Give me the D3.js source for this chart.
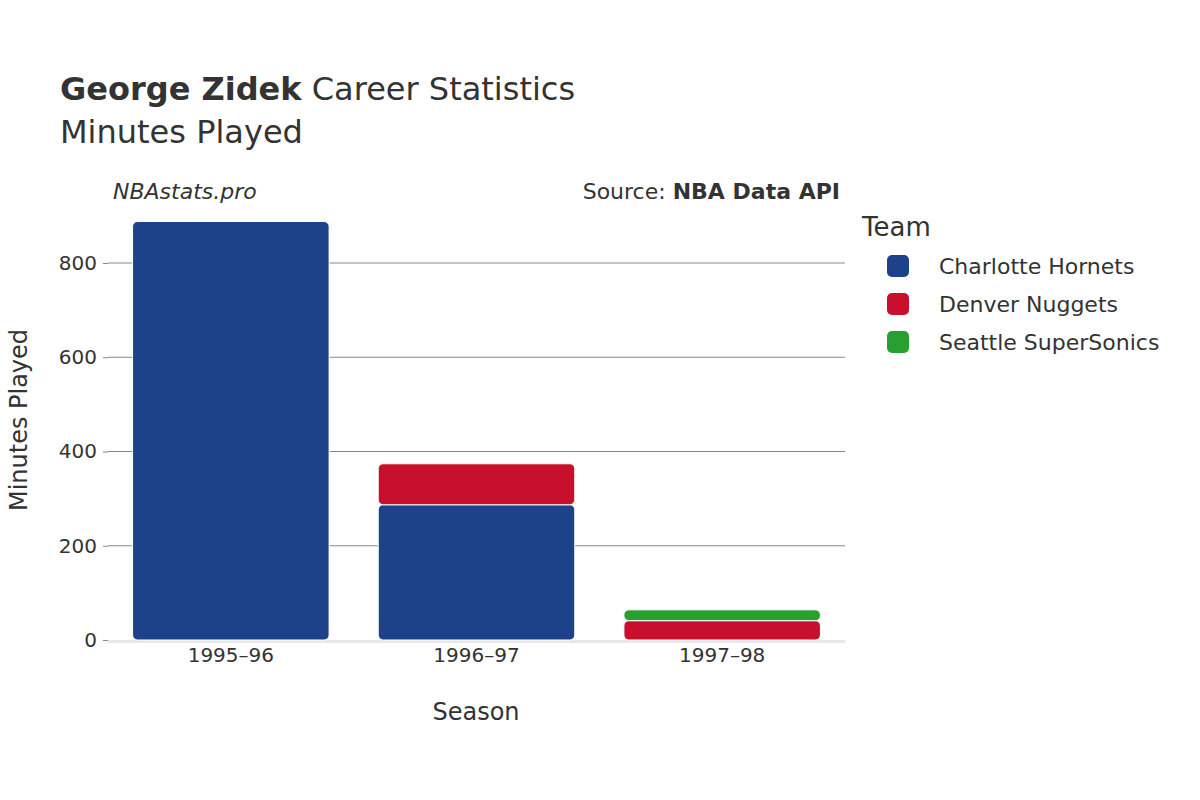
<!DOCTYPE html>
<html><head><meta charset="utf-8">
<script src="https://cdn.jsdelivr.net/npm/d3@7"></script>
<style>body{margin:0;background:#fff;font-family:"DejaVu Sans",sans-serif;}</style>
</head><body><svg id="c" width="1200" height="800"></svg>
<script>
const seasons = ["1995–96","1996–97","1997–98"];
const teams = ["Charlotte Hornets","Denver Nuggets","Seattle SuperSonics"];
const colors = ["#1d428a","#c8102e","#28a030"];
const charlotte = [888, 287, 0];
const denver = [0, 87, 41];
const seattle = [0, 0, 23];
const yTicks = [0,200,400,600,800];

const svg = d3.select("#c");
const L=108,R=845,T=205,B=640;
const x = d3.scaleBand().domain(seasons).range([L,R]).paddingInner(0.2).paddingOuter(0.1);
const y = d3.scaleLinear().domain([0,800]).range([B,263]);

svg.append("g").selectAll("line").data(yTicks.slice(1)).join("line")
  .attr("x1",L).attr("x2",R).attr("y1",d=>y(d)).attr("y2",d=>y(d)).attr("stroke","#888").attr("stroke-width",1);
svg.append("line").attr("x1",L).attr("x2",R).attr("y1",B+1.5).attr("y2",B+1.5).attr("stroke","#e8e8ec").attr("stroke-width",3);

const yAxis = svg.append("g").attr("transform",`translate(${L},0)`).call(d3.axisLeft(y).tickValues(yTicks).tickSize(5).tickPadding(6));
yAxis.select(".domain").remove();
yAxis.selectAll("line").attr("stroke","#888");
yAxis.selectAll("text").attr("font-size",20).attr("fill","#333").attr("font-family","DejaVu Sans");
const xAxis = svg.append("g").attr("transform",`translate(0,${B})`).call(d3.axisBottom(x).tickSize(0).tickPadding(8));
xAxis.select(".domain").remove();
xAxis.selectAll("text").attr("font-size",20).attr("fill","#333").attr("font-family","DejaVu Sans");

const series=[charlotte,denver,seattle];
seasons.forEach((s,i)=>{
  let base=0;
  series.forEach((arr,k)=>{
    const v=arr[i]; if(!v) return;
    svg.append("rect").attr("x",x(s)).attr("width",x.bandwidth())
      .attr("y",y(base+v)).attr("height",y(base)-y(base+v))
      .attr("fill",colors[k]).attr("stroke","#fff").attr("stroke-width",1).attr("rx",5);
    base+=v;
  });
});

svg.append("text").attr("x",60).attr("y",100).attr("font-size",32).attr("fill","#333")
  .html('<tspan font-weight="bold">George Zidek</tspan> Career Statistics');
svg.append("text").attr("x",60).attr("y",143).attr("font-size",32).attr("fill","#333").text("Minutes Played");
svg.append("text").attr("x",113).attr("y",199).attr("font-size",22).attr("font-style","italic").attr("fill","#333").text("NBAstats.pro");
svg.append("text").attr("x",840).attr("y",199).attr("font-size",22).attr("text-anchor","end").attr("fill","#333")
  .html('Source: <tspan font-weight="bold">NBA Data API</tspan>');
svg.append("text").attr("transform","translate(27,420) rotate(-90)").attr("text-anchor","middle").attr("font-size",24).attr("fill","#333").text("Minutes Played");
svg.append("text").attr("x",476).attr("y",720).attr("text-anchor","middle").attr("font-size",24).attr("fill","#333").text("Season");

svg.append("text").attr("x",862).attr("y",236).attr("font-size",26).attr("fill","#333").text("Team");
teams.forEach((t,i)=>{
  const yy=266+i*38;
  svg.append("rect").attr("x",887).attr("y",yy-11).attr("width",22).attr("height",22).attr("rx",5).attr("fill",colors[i]);
  svg.append("text").attr("x",939).attr("y",yy+8).attr("font-size",22).attr("fill","#333").text(t);
});
</script></body></html>
